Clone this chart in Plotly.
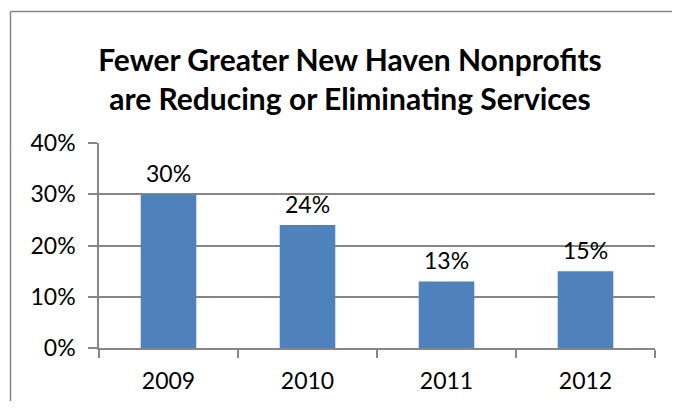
import plotly.graph_objects as go

years = ["2009", "2010", "2011", "2012"]
values = [0.30, 0.24, 0.13, 0.15]
labels = ["30%", "24%", "13%", "15%"]
y_ticks = [0, 0.1, 0.2, 0.3, 0.4]
y_tick_text = ["0%", "10%", "20%", "30%", "40%"]

FONT = "Lato"
FS = 23
fig = go.Figure()
fig.add_trace(go.Bar(x=years, y=values,
                     marker=dict(color="#4F81BD", line=dict(width=0)),
                     hoverinfo="skip"))

for i, (v, t) in enumerate(zip(values, labels)):
    fig.add_annotation(x=i, y=v, xref="x", yref="y", text=t, showarrow=False,
                       yanchor="bottom", yshift=5,
                       font=dict(family=FONT, size=FS, color="black"))

# page body has an 8px margin, so the figure is laid out 8px in from the top-left
W, H = 664, 393
L, R, T, B = 91, 17, 135, 53
pw, ph = W - L - R, H - T - B
bx0 = (2.5 - L) / pw
bx1 = (W + 20 - L) / pw
by0 = -(B + 20) / ph
by1 = (H - 3.5 - B) / ph
border = dict(color="#868686", width=1.5)
fig.add_shape(type="line", xref="paper", yref="paper", x0=bx0, x1=bx0, y0=by0, y1=by1,
              line=border, layer="below")
fig.add_shape(type="line", xref="paper", yref="paper", x0=bx0, x1=bx1, y0=by1, y1=by1,
              line=border, layer="below")

fig.update_layout(
    width=W, height=H,
    margin=dict(l=L, r=R, t=T, b=B, autoexpand=False),
    paper_bgcolor="white", plot_bgcolor="white",
    bargap=0.6, showlegend=False,
    title=dict(text="<b>Fewer Greater New Haven Nonprofits<br>are Reducing or Eliminating Services</b>",
               x=(342 / W), xanchor="center", y=1 - 63 / H, yanchor="middle",
               font=dict(family=FONT, size=30, color="black")),
    font=dict(family=FONT, size=FS, color="black"),
)
fig.update_xaxes(type="category", categoryorder="array", categoryarray=years,
                 automargin=False,
                 showline=True, linecolor="#868686", linewidth=1.5,
                 ticks="outside", tickson="boundaries", ticklen=8, tickcolor="#868686", tickwidth=1.5,
                 ticklabelstandoff=12,
                 tickfont=dict(family=FONT, size=FS, color="black"), showgrid=False)
fig.update_yaxes(range=[0, 0.4], tickvals=y_ticks, ticktext=y_tick_text,
                 automargin=False,
                 showline=True, linecolor="#868686", linewidth=1.5,
                 ticks="outside", ticklen=9, tickcolor="#868686", tickwidth=1.5,
                 ticklabelstandoff=8,
                 showgrid=True, gridcolor="#868686", gridwidth=1.5, zeroline=False,
                 tickfont=dict(family=FONT, size=FS, color="black"))

fig.write_html("out.html", config={"displayModeBar": False})
